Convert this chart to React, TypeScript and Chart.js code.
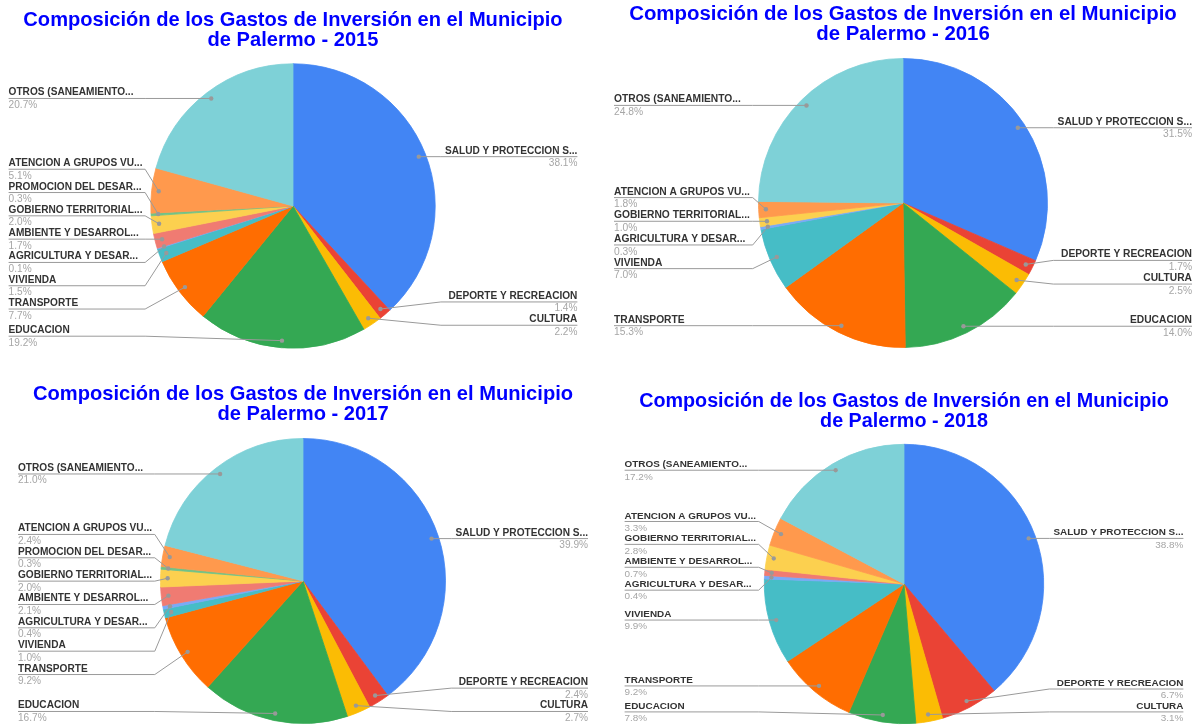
import { useEffect, useRef } from "react";
import { Chart, registerables } from "chart.js";

Chart.register(...registerables);
document.body.style.margin = "0";

const categories = [
  "SALUD Y PROTECCION S...",
  "DEPORTE Y RECREACION",
  "CULTURA",
  "EDUCACION",
  "TRANSPORTE",
  "VIVIENDA",
  "AGRICULTURA Y DESAR...",
  "AMBIENTE Y DESARROL...",
  "GOBIERNO TERRITORIAL...",
  "PROMOCION DEL DESAR...",
  "ATENCION A GRUPOS VU...",
  "OTROS (SANEAMIENTO...",
];

const colors = [
  "#4285F4", "#EA4335", "#FBBC04", "#34A853", "#FF6D01", "#46BDC6",
  "#7BAAF7", "#F07B72", "#FCD04F", "#71C287", "#FF994D", "#7ED1D7",
];

const years = ["2015", "2016", "2017", "2018"];

const values2015 = [38.1, 1.4, 2.2, 19.2, 7.7, 1.5, 0.1, 1.7, 2.0, 0.3, 5.1, 20.7];
const values2016 = [31.5, 1.7, 2.5, 14.0, 15.3, 7.0, 0.3, 0, 1.0, 0, 1.8, 24.8];
const values2017 = [39.9, 2.4, 2.7, 16.7, 9.2, 1.0, 0.4, 2.1, 2.0, 0.3, 2.4, 21.0];
const values2018 = [38.8, 6.7, 3.1, 7.8, 9.2, 9.9, 0.4, 0.7, 2.8, 0, 3.3, 17.2];

const series = [values2015, values2016, values2017, values2018];

const titleLine1 = "Composición de los Gastos de Inversión en el Municipio";
const titleLine2 = "de Palermo - ";

// layout of each panel (screen px): pie centre and radius
const panels = [
  { cx: 293.2, cy: 205.5, r: 142.2 },
  { cx: 903.2, cy: 202.5, r: 144.5 },
  { cx: 302.9, cy: 581.2, r: 142.5 },
  { cx: 904.2, cy: 584.2, r: 139.7 },
];

const FONT = '"Liberation Sans", Arial, sans-serif';
const CANVAS_W = 600;
const BASE_R = 142.2;

function spread(list: any[], gap: number, minY: number, maxY: number) {
  const clampTop = (top: number, n: number) => Math.max(minY, Math.min(top, maxY - (n - 1) * gap));
  const groups: any[] = [];
  for (const it of list) {
    groups.push({ items: [it], top: clampTop(it.want, 1) });
    while (groups.length > 1) {
      const b = groups[groups.length - 1];
      const a = groups[groups.length - 2];
      if (a.top + a.items.length * gap <= b.top) break;
      groups.pop();
      groups.pop();
      const items = a.items.concat(b.items);
      const lo = Math.max(minY, items[0].want);
      const hi = Math.min(maxY, items[items.length - 1].want);
      const centre = (lo + hi) / 2;
      groups.push({ items, top: clampTop(centre - ((items.length - 1) * gap) / 2, items.length) });
    }
  }
  groups.forEach((g) => g.items.forEach((it: any, j: number) => (it.y = g.top + j * gap)));
}

const pieLabelsPlugin = {
  id: "pieLabels",
  afterDraw(chart: any) {
    const meta = chart.getDatasetMeta(0);
    const data = chart.data.datasets[0].data as number[];
    const labels = chart.data.labels as string[];
    const first = meta.data[0];
    if (!first) return;
    const ctx = chart.ctx;
    const cx = first.x;
    const cy = first.y;
    const r = first.outerRadius;
    const k = r / BASE_R;
    const gap = 23.3 * k;
    const minY = cy - r + 12 * k;
    const maxY = cy + r - 12 * k;
    const sides: Record<string, any[]> = { left: [], right: [] };
    meta.data.forEach((arc: any, i: number) => {
      const v = data[i];
      if (!(v > 0)) return;
      const mid = (arc.startAngle + arc.endAngle) / 2;
      const dx = cx + 0.95 * r * Math.cos(mid);
      const dy = cy + 0.95 * r * Math.sin(mid);
      const side = Math.cos(mid) >= 0 ? "right" : "left";
      sides[side].push({ i, dx, dy, want: dy, y: dy });
    });
    ctx.save();
    for (const side of ["left", "right"]) {
      const list = sides[side].sort((a, b) => a.want - b.want);
      spread(list, gap, minY, maxY);
      const left = side === "left";
      const edge = left ? cx - 2 * r : cx + 2 * r;
      const col = left ? cx - 1.04 * r : cx + 1.04 * r;
      for (const it of list) {
        ctx.strokeStyle = "#9a9a9a";
        ctx.lineWidth = 1;
        ctx.beginPath();
        ctx.moveTo(edge, it.y);
        ctx.lineTo(col, it.y);
        ctx.lineTo(it.dx, it.dy);
        ctx.stroke();
        ctx.fillStyle = "#999999";
        ctx.beginPath();
        ctx.arc(it.dx, it.dy, 2.2 * k, 0, Math.PI * 2);
        ctx.fill();
        ctx.textAlign = left ? "left" : "right";
        ctx.textBaseline = "alphabetic";
        ctx.font = `bold ${10.1 * k}px ${FONT}`;
        ctx.fillStyle = "#333333";
        ctx.fillText(labels[it.i], edge, it.y - 3 * k);
        ctx.font = `${10.1 * k}px ${FONT}`;
        ctx.fillStyle = "#a6a6a6";
        ctx.fillText(`${data[it.i].toFixed(1)}%`, edge, it.y + 9.5 * k);
      }
    }
    ctx.restore();
  },
};

function PiePanel({ idx }: { idx: number }) {
  const ref = useRef<HTMLCanvasElement>(null);
  const p = panels[idx];
  const k = p.r / BASE_R;
  const fs = 20.1 * k;
  const lhRatio = 20 / 20.1;
  const lh = fs * lhRatio;
  const baseline1 = 200 - p.r - 36.6 * k;
  const padTop = baseline1 - 0.3465 * fs - lh / 2;
  const block = padTop + 2 * lh;
  const H = Math.ceil(400 - block);
  const padBottom = H - 400 + block;
  const left = Math.round(p.cx - CANVAS_W / 2);
  const top = Math.round(p.cy - 200);

  useEffect(() => {
    const canvas = ref.current!;
    const chart = new Chart(canvas, {
      type: "pie",
      data: {
        labels: categories,
        datasets: [
          {
            data: series[idx],
            backgroundColor: colors,
            borderColor: colors,
            borderWidth: (c: any) => (c.raw > 0 ? 0.8 : 0),
          },
        ],
      },
      options: {
        responsive: false,
        animation: false,
        events: [],
        radius: p.r,
        layout: { padding: { top: 0, left: 0, right: 0, bottom: padBottom } },
        plugins: {
          legend: { display: false },
          tooltip: { enabled: false },
          title: {
            display: true,
            text: [titleLine1, titleLine2 + years[idx]],
            color: "#0000ff",
            font: { family: FONT, size: fs, weight: "bold", lineHeight: lhRatio },
            padding: { top: padTop, bottom: 0 },
          },
        },
      } as any,
      plugins: [pieLabelsPlugin] as any,
    });
    return () => chart.destroy();
  }, [idx]);

  return (
    <canvas
      ref={ref}
      width={CANVAS_W}
      height={H}
      style={{ position: "absolute", left, top, width: CANVAS_W, height: H }}
    />
  );
}

export default function App() {
  return (
    <div style={{ position: "relative", width: 1198, height: 725, overflow: "hidden", background: "#ffffff" }}>
      {years.map((_, i) => (
        <PiePanel key={i} idx={i} />
      ))}
    </div>
  );
}
